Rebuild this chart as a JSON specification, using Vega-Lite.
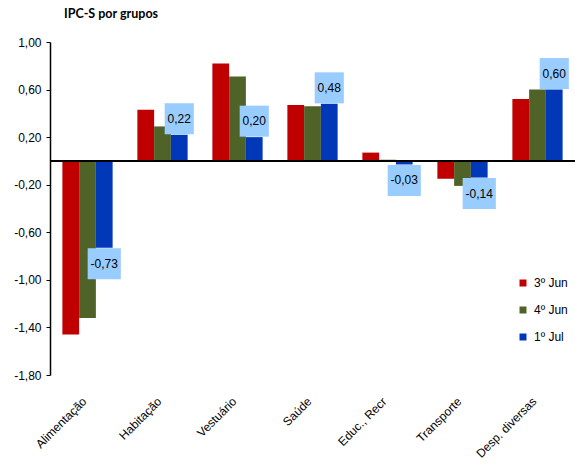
{
  "$schema": "https://vega.github.io/schema/vega-lite/v6.json",
  "autosize": {"type": "none"},
  "padding": {"left": 50, "top": 42, "right": 0, "bottom": 95},
  "width": 525,
  "height": 333,
  "title": {
    "text": "IPC-S por grupos",
    "anchor": "start",
    "frame": "group",
    "dx": 14,
    "offset": 16,
    "font": "Lato",
    "fontSize": 12.5,
    "fontWeight": "bold",
    "color": "#000000"
  },
  "data": {
    "values": [
      {"grupo": "Alimentação", "serie": "3º Jun", "valor": -1.46},
      {"grupo": "Alimentação", "serie": "4º Jun", "valor": -1.32},
      {"grupo": "Alimentação", "serie": "1º Jul", "valor": -0.73},
      {"grupo": "Habitação", "serie": "3º Jun", "valor": 0.43},
      {"grupo": "Habitação", "serie": "4º Jun", "valor": 0.29},
      {"grupo": "Habitação", "serie": "1º Jul", "valor": 0.22},
      {"grupo": "Vestuário", "serie": "3º Jun", "valor": 0.82},
      {"grupo": "Vestuário", "serie": "4º Jun", "valor": 0.71},
      {"grupo": "Vestuário", "serie": "1º Jul", "valor": 0.20},
      {"grupo": "Saúde", "serie": "3º Jun", "valor": 0.47},
      {"grupo": "Saúde", "serie": "4º Jun", "valor": 0.46},
      {"grupo": "Saúde", "serie": "1º Jul", "valor": 0.48},
      {"grupo": "Educ., Recr", "serie": "3º Jun", "valor": 0.07},
      {"grupo": "Educ., Recr", "serie": "4º Jun", "valor": 0.01},
      {"grupo": "Educ., Recr", "serie": "1º Jul", "valor": -0.03},
      {"grupo": "Transporte", "serie": "3º Jun", "valor": -0.15},
      {"grupo": "Transporte", "serie": "4º Jun", "valor": -0.21},
      {"grupo": "Transporte", "serie": "1º Jul", "valor": -0.14},
      {"grupo": "Desp. diversas", "serie": "3º Jun", "valor": 0.52},
      {"grupo": "Desp. diversas", "serie": "4º Jun", "valor": 0.60},
      {"grupo": "Desp. diversas", "serie": "1º Jul", "valor": 0.60}
    ]
  },
  "encoding": {
    "x": {
      "field": "grupo",
      "type": "nominal",
      "sort": null,
      "scale": {"paddingInner": 0.33, "paddingOuter": 0.165},
      "axis": {
        "title": null,
        "domain": false,
        "ticks": false,
        "labelAngle": -45,
        "labelAlign": "right",
        "labelBaseline": "middle",
        "labelPadding": 24,
        "labelOffset": -3,
        "labelFont": "Arial",
        "labelFontSize": 12,
        "labelColor": "#000000"
      }
    },
    "xOffset": {
      "field": "serie",
      "type": "nominal",
      "sort": ["3º Jun", "4º Jun", "1º Jul"],
      "scale": {"paddingInner": 0, "paddingOuter": 0}
    },
    "y": {
      "field": "valor",
      "type": "quantitative",
      "scale": {"domain": [-1.8, 1.0], "nice": false, "zero": false},
      "axis": {
        "title": null,
        "values": [1.0, 0.6, 0.2, -0.2, -0.6, -1.0, -1.4, -1.8],
        "format": ".2f",
        "grid": false,
        "domainColor": "#000000",
        "domainWidth": 1.5,
        "tickColor": "#000000",
        "tickSize": 4,
        "labelPadding": 5,
        "labelFont": "Arial",
        "labelFontSize": 12,
        "labelColor": "#000000"
      }
    }
  },
  "layer": [
    {
      "mark": {"type": "bar"},
      "encoding": {
        "color": {
          "field": "serie",
          "type": "nominal",
          "sort": ["3º Jun", "4º Jun", "1º Jul"],
          "scale": {
            "domain": ["3º Jun", "4º Jun", "1º Jul"],
            "range": ["#C00000", "#4F6228", "#0038B8"]
          },
          "legend": {
            "title": null,
            "orient": "none",
            "legendX": 467,
            "legendY": 235,
            "symbolType": "square",
            "symbolSize": 49,
            "symbolStrokeWidth": 0,
            "rowPadding": 15,
            "labelFont": "Arial",
            "labelFontSize": 12,
            "labelColor": "#000000",
            "labelOffset": 5
          }
        }
      }
    },
    {
      "mark": {"type": "rule", "color": "#000000", "strokeWidth": 1.5},
      "encoding": {"x": {"value": 0}, "x2": {"value": "width"}, "y": {"datum": 0}, "xOffset": null}
    },
    {
      "transform": [{"filter": "datum.serie === '1º Jul' && datum.valor >= 0"}],
      "mark": {
        "type": "point",
        "shape": "M-0.94,-1H0.94V1H-0.94Z",
        "size": 961,
        "filled": true,
        "opacity": 1,
        "strokeWidth": 0,
        "color": "#99CCFF",
        "yOffset": -16
      }
    },
    {
      "transform": [{"filter": "datum.serie === '1º Jul' && datum.valor < 0"}],
      "mark": {
        "type": "point",
        "shape": "M-1.07,-1H1.07V1H-1.07Z",
        "size": 961,
        "filled": true,
        "opacity": 1,
        "strokeWidth": 0,
        "color": "#99CCFF",
        "yOffset": 16
      }
    },
    {
      "transform": [{"filter": "datum.serie === '1º Jul' && datum.valor >= 0"}],
      "mark": {
        "type": "text",
        "font": "Arial",
        "fontSize": 12,
        "color": "#000000",
        "baseline": "middle",
        "yOffset": -16
      },
      "encoding": {"text": {"field": "valor", "type": "quantitative", "format": ".2f"}}
    },
    {
      "transform": [{"filter": "datum.serie === '1º Jul' && datum.valor < 0"}],
      "mark": {
        "type": "text",
        "font": "Arial",
        "fontSize": 12,
        "color": "#000000",
        "baseline": "middle",
        "yOffset": 16
      },
      "encoding": {"text": {"field": "valor", "type": "quantitative", "format": ".2f"}}
    }
  ],
  "config": {
    "font": "Arial",
    "locale": {
      "number": {
        "decimal": ",",
        "thousands": ".",
        "grouping": [3],
        "currency": ["R$", ""],
        "minus": "-"
      }
    },
    "view": {"stroke": null},
    "background": "#ffffff"
  }
}
